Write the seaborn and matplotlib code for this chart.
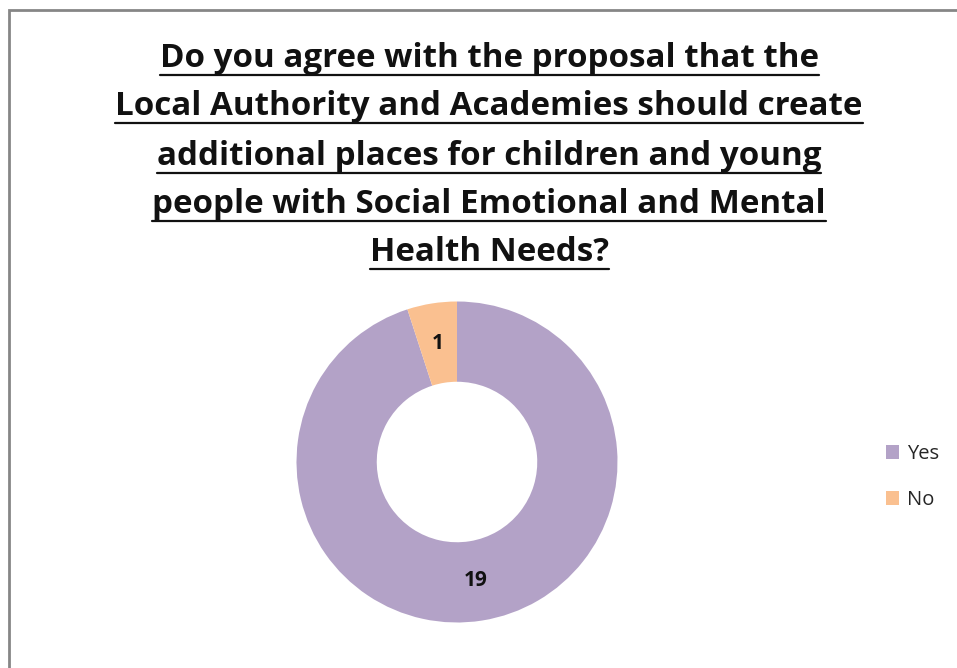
import matplotlib
matplotlib.use("Agg")
import matplotlib.pyplot as plt
import matplotlib.patches as mpatches
from matplotlib.lines import Line2D
import numpy as np
import seaborn as sns

sns.set_theme(style="white")
plt.rcParams["font.family"] = ["Open Sans", "DejaVu Sans"]

categories = ["Yes", "No"]
counts = [19, 1]
colors = ["#B3A2C7", "#FAC090"]
title_lines = [
    "Do you agree with the proposal that the",
    "Local Authority and Academies should create",
    "additional places for children and young",
    "people with Social Emotional and Mental",
    "Health Needs?",
]

W, H = 957, 668
fig = plt.figure(figsize=(W / 100, H / 100), dpi=100)
fig.patch.set_facecolor("white")

# chart area frame (open on the right and bottom)
fig.add_artist(mpatches.Rectangle((9 / W, -0.1), 1.2, 1 - 10 / H + 0.1,
                                  transform=fig.transFigure, fill=False,
                                  edgecolor="#868686", linewidth=2))

# donut
cx, cy, r = 457, H - 462, 160.5
ax = fig.add_axes([(cx - r) / W, (cy - r) / H, 2 * r / W, 2 * r / H])
wedges, _ = ax.pie(counts, colors=colors, startangle=90, counterclock=False,
                   radius=1, wedgeprops=dict(width=0.5, linewidth=0))
ax.set_xlim(-1, 1)
ax.set_ylim(-1, 1)
ax.axis("off")
for w, v in zip(wedges, counts):
    ang = np.deg2rad((w.theta1 + w.theta2) / 2)
    ax.text(0.75 * np.cos(ang), 0.75 * np.sin(ang), str(v), ha="center",
            va="center", fontsize=15, fontweight="bold", color="#111111")

# title: size the widest line to the title block width, underline each line
renderer = fig.canvas.get_renderer()
probe = fig.text(0, 0, title_lines[1], fontsize=20, fontweight="bold")
title_size = 20 * 747 / probe.get_window_extent(renderer).width
probe.remove()

baselines = [67, 115, 165, 213, 261]
texts = []
for line, y in zip(title_lines, baselines):
    t = fig.text(489 / W, 1 - y / H, line, ha="center", va="baseline",
                 fontsize=title_size, fontweight="bold", color="#111111")
    texts.append((t, y))
fig.canvas.draw()
for t, y in texts:
    bb = t.get_window_extent(renderer)
    uy = 1 - (y + 8) / H
    fig.add_artist(Line2D([bb.x0 / W, bb.x1 / W], [uy, uy],
                          transform=fig.transFigure, color="#111111",
                          linewidth=1.6))

# legend
handles = [mpatches.Patch(facecolor=c, edgecolor="none") for c in colors]
fig.legend(handles, categories, loc="center left",
           bbox_to_anchor=(868 / W, 1 - 477 / H), frameon=False,
           fontsize=14.5, handlelength=0.65, handleheight=0.65,
           labelspacing=1.3, handletextpad=0.4)

fig.savefig("out.png", dpi=100)
